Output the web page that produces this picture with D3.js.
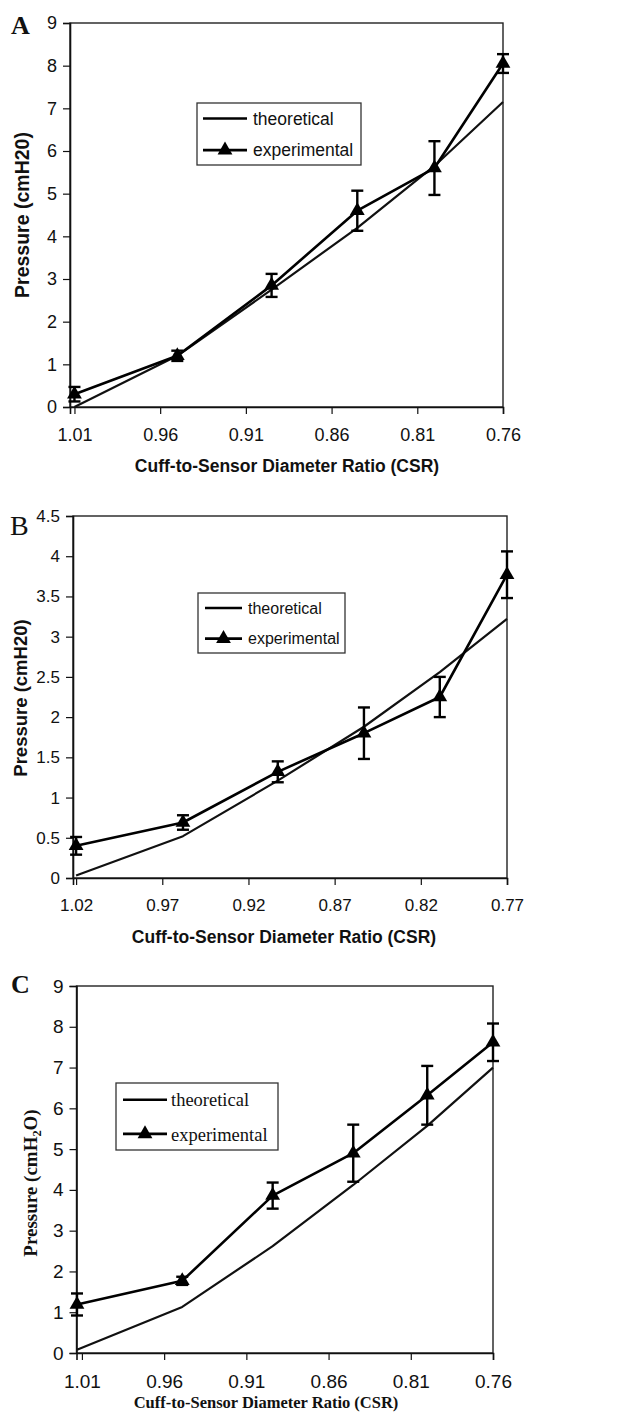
<!DOCTYPE html>
<html><head><meta charset="utf-8">
<script src="https://cdn.jsdelivr.net/npm/d3@7"></script>
<style>body{margin:0;background:#fff}</style>
</head><body>
<svg id="c" width="618" height="1418"></svg>
<script>
// ---- Panel A data ----
const csrA = [1.01, 0.95, 0.895, 0.845, 0.80, 0.76];
const theoA = [0.0, 1.2, 2.75, 4.2, 5.65, 7.15];
const expA = [0.3, 1.2, 2.85, 4.6, 5.6, 8.05];
const errA = [0.17, 0.12, 0.27, 0.47, 0.63, 0.22];
const xTicksA = [1.01, 0.96, 0.91, 0.86, 0.81, 0.76];
const yTicksA = [0, 1, 2, 3, 4, 5, 6, 7, 8, 9];

// ---- Panel B data ----
const csrB = [1.02, 0.958, 0.903, 0.853, 0.809, 0.77];
const theoB = [0.03, 0.52, 1.21, 1.88, 2.56, 3.22];
const expB = [0.4, 0.69, 1.32, 1.8, 2.25, 3.77];
const errB = [0.11, 0.09, 0.13, 0.32, 0.25, 0.29];
const xTicksB = [1.02, 0.97, 0.92, 0.87, 0.82, 0.77];
const yTicksB = [0, 0.5, 1, 1.5, 2, 2.5, 3, 3.5, 4, 4.5];

// ---- Panel C data ----
const csrC = [1.013, 0.949, 0.894, 0.845, 0.80, 0.76];
const theoC = [0.08, 1.13, 2.62, 4.12, 5.57, 7.0];
const expC = [1.19, 1.77, 3.86, 4.9, 6.32, 7.62];
const errC = [0.27, 0.1, 0.32, 0.7, 0.72, 0.46];
const xTicksC = [1.01, 0.96, 0.91, 0.86, 0.81, 0.76];
const yTicksC = [0, 1, 2, 3, 4, 5, 6, 7, 8, 9];

const seriesNames = ["theoretical", "experimental"];
const xTitle = "Cuff-to-Sensor Diameter Ratio (CSR)";

const SANS = "'Liberation Sans', Arial, sans-serif";
const SERIF = "'Liberation Serif', 'Times New Roman', serif";

const svg = d3.select("#c");

function panel(o) {
  const g = svg.append("g");
  const x = d3.scaleLinear().domain(o.xDomain).range([o.left, o.right]);
  const y = d3.scaleLinear().domain(o.yDomain).range([o.bottom, o.top]);

  // frame
  g.append("rect")
    .attr("x", o.left).attr("y", o.top)
    .attr("width", o.right - o.left).attr("height", o.bottom - o.top)
    .attr("fill", "none").attr("stroke", "#222").attr("stroke-width", 1.4);

  // y axis
  const ya = g.append("g").attr("transform", `translate(${o.left},0)`)
    .call(d3.axisLeft(y).tickValues(o.yTicks).tickSize(7).tickPadding(6)
      .tickFormat(d3.format("~g")));
  ya.select(".domain").attr("stroke", "#111").attr("stroke-width", 1.6);
  ya.selectAll(".tick line").attr("stroke", "#111").attr("stroke-width", 1.2);
  ya.selectAll(".tick text").attr("font-family", o.tickFont).attr("font-size", o.yTickSize).attr("fill", "#111");

  // x axis
  const xa = g.append("g").attr("transform", `translate(0,${o.bottom})`)
    .call(d3.axisBottom(x).tickValues(o.xTicks).tickSize(7).tickPadding(o.xPad)
      .tickFormat(d3.format(".2f")));
  xa.select(".domain").attr("stroke", "#111").attr("stroke-width", 1.6);
  xa.selectAll(".tick line").attr("stroke", "#111").attr("stroke-width", 1.2);
  xa.selectAll(".tick text").attr("font-family", o.tickFont).attr("font-size", o.xTickSize).attr("fill", "#111");

  const idx = d3.range(o.csr.length);
  const line = vals => d3.line().x(i => x(o.csr[i])).y(i => y(vals[i]))(idx);

  // theoretical
  g.append("path").attr("d", line(o.theo)).attr("fill", "none")
    .attr("stroke", "#111").attr("stroke-width", 2.2).attr("stroke-linejoin", "round");
  // experimental
  g.append("path").attr("d", line(o.exp)).attr("fill", "none")
    .attr("stroke", "#000").attr("stroke-width", 2.6).attr("stroke-linejoin", "round");

  // error bars
  const eb = g.append("g").attr("stroke", "#000").attr("stroke-width", 2.4);
  idx.forEach(i => {
    const cx = x(o.csr[i]);
    const y1 = y(o.exp[i] + o.err[i]), y0 = y(o.exp[i] - o.err[i]);
    eb.append("line").attr("x1", cx).attr("x2", cx).attr("y1", y1).attr("y2", y0);
    eb.append("line").attr("x1", cx - 6).attr("x2", cx + 6).attr("y1", y1).attr("y2", y1);
    eb.append("line").attr("x1", cx - 6).attr("x2", cx + 6).attr("y1", y0).attr("y2", y0);
  });

  // markers
  const tri = d3.symbol().type(d3.symbolTriangle).size(o.markSize);
  g.selectAll(null).data(idx).join("path")
    .attr("d", tri)
    .attr("transform", i => `translate(${x(o.csr[i])},${y(o.exp[i])})`)
    .attr("fill", "#000");

  // legend
  const L = o.legend;
  g.append("rect").attr("x", L.x).attr("y", L.y).attr("width", L.w).attr("height", L.h)
    .attr("fill", "#fff").attr("stroke", "#333").attr("stroke-width", 1.3);
  const rows = [L.y + L.h * 0.25, L.y + L.h * 0.76];
  seriesNames.forEach((name, k) => {
    const ry = rows[k];
    g.append("line").attr("x1", L.x + L.lx0).attr("x2", L.x + L.lx1)
      .attr("y1", ry).attr("y2", ry).attr("stroke", "#000").attr("stroke-width", k ? 2.6 : 2.4);
    if (k === 1) {
      g.append("path").attr("d", tri)
        .attr("transform", `translate(${L.x + (L.lx0 + L.lx1) / 2},${ry})`).attr("fill", "#000");
    }
    g.append("text").attr("x", L.x + L.tx).attr("y", ry + L.fs * 0.36)
      .attr("font-family", L.font).attr("font-size", L.fs).attr("fill", "#111").text(name);
  });

  // x title
  g.append("text").attr("x", o.xtX).attr("y", o.xtY).attr("text-anchor", "middle")
    .attr("font-family", o.titleFont).attr("font-weight", "bold").attr("font-size", o.xtSize)
    .attr("fill", "#111").text(xTitle);

  // y title
  const yt = g.append("text")
    .attr("transform", `translate(${o.ytX},${o.ytY}) rotate(-90)`)
    .attr("text-anchor", "middle")
    .attr("font-family", o.titleFont).attr("font-weight", "bold").attr("font-size", o.ytSize)
    .attr("fill", "#111");
  if (o.subscript) {
    yt.append("tspan").text("Pressure (cmH");
    yt.append("tspan").attr("dy", 4).attr("font-size", o.ytSize * 0.65).text("2");
    yt.append("tspan").attr("dy", -4).text("O)");
  } else {
    yt.text("Pressure (cmH20)");
  }

  // panel letter
  g.append("text").attr("x", o.lab.x).attr("y", o.lab.y)
    .attr("font-family", SERIF).attr("font-weight", o.lab.bold ? "bold" : "normal")
    .attr("font-size", o.lab.fs).attr("fill", "#111").text(o.lab.t);
}

panel({
  csr: csrA, theo: theoA, exp: expA, err: errA, xTicks: xTicksA, yTicks: yTicksA,
  xDomain: [1.0126, 0.76], yDomain: [0, 9],
  left: 70, right: 503, top: 23, bottom: 407,
  tickFont: SANS, yTickSize: 18, xTickSize: 18, xPad: 14,
  markSize: 95,
  legend: { x: 197, y: 103, w: 164, h: 62, lx0: 6, lx1: 50, tx: 56, fs: 17.5, font: SANS },
  titleFont: SANS, xtX: 287, xtY: 472, xtSize: 17.5,
  ytX: 29, ytY: 215, ytSize: 19.5,
  lab: { t: "A", x: 11, y: 34, fs: 26, bold: true }
});

panel({
  csr: csrB, theo: theoB, exp: expB, err: errB, xTicks: xTicksB, yTicks: yTicksB,
  xDomain: [1.0218, 0.77], yDomain: [0, 4.5],
  left: 73, right: 507, top: 516, bottom: 878,
  tickFont: SANS, yTickSize: 17, xTickSize: 17, xPad: 14,
  markSize: 95,
  legend: { x: 198, y: 593, w: 147, h: 60, lx0: 7, lx1: 44, tx: 50, fs: 16, font: SANS },
  titleFont: SANS, xtX: 284, xtY: 943, xtSize: 17.5,
  ytX: 27, ytY: 698, ytSize: 18.5,
  lab: { t: "B", x: 10, y: 535, fs: 28, bold: false }
});

panel({
  csr: csrC, theo: theoC, exp: expC, err: errC, xTicks: xTicksC, yTicks: yTicksC,
  xDomain: [1.0133, 0.76], yDomain: [0, 9],
  left: 76.5, right: 493, top: 986, bottom: 1353,
  tickFont: SANS, yTickSize: 19, xTickSize: 19, xPad: 15,
  markSize: 95,
  legend: { x: 116, y: 1083, w: 162, h: 67, lx0: 7, lx1: 51, tx: 55, fs: 18.5, font: SERIF },
  titleFont: SERIF, xtX: 266, xtY: 1408, xtSize: 16.5,
  ytX: 37, ytY: 1183, ytSize: 19,
  subscript: true,
  lab: { t: "C", x: 11, y: 993, fs: 26, bold: true }
});
</script>
</body></html>
